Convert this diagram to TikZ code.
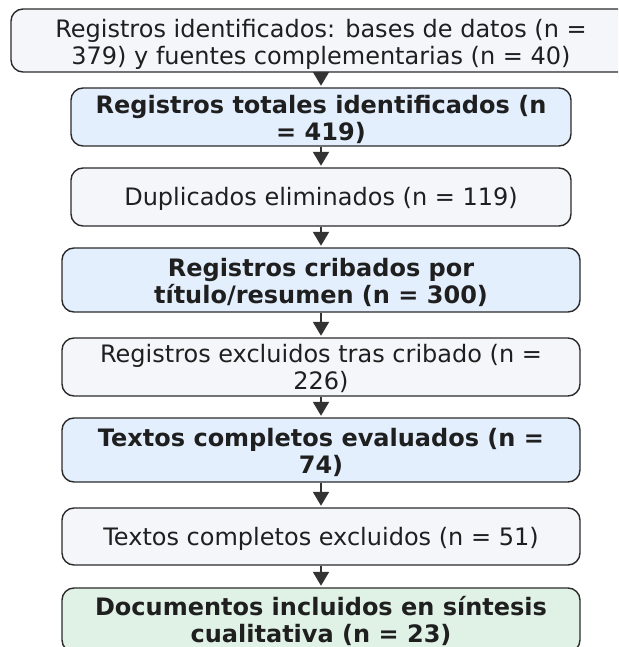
\documentclass[tikz,border=0pt]{standalone}
\usepackage{fontspec}
\setmainfont{DejaVu Sans}
\usetikzlibrary{arrows.meta}
\definecolor{boxgray}{HTML}{F4F6FA}
\definecolor{boxblue}{HTML}{E3EFFD}
\definecolor{boxgreen}{HTML}{E0F2E6}
\definecolor{edgec}{HTML}{2B2B2B}
\definecolor{arrc}{HTML}{333333}
\tikzset{
  flowbox/.style={draw=edgec, line width=1.4pt, rounded corners=12pt, inner sep=0pt},
  graybox/.style={flowbox, fill=boxgray},
  bluebox/.style={flowbox, fill=boxblue},
  greenbox/.style={flowbox, fill=boxgreen},
  plaintxt/.style={align=center, inner sep=0pt, font=\fontsize{24}{27}\selectfont, text=black!88},
  boldtxt/.style={plaintxt, font=\fontsize{24}{27}\selectfont\bfseries},
  flowarrow/.style={draw=arrc, line width=2pt, -{Triangle[width=16pt,length=14pt]}, shorten >=1.5pt}
}
\begin{document}
\begin{tikzpicture}[x=1pt,y=-1pt]
\useasboundingbox (0,0) rectangle (618,647);
\clip (0,0) rectangle (618,647);
\node[graybox, minimum width=620pt, minimum height=63pt] (b1) at (321,40.5) {};
\node[bluebox, minimum width=500pt, minimum height=58pt] (b2) at (321,117) {};
\node[graybox, minimum width=500pt, minimum height=58pt] (b3) at (321,197) {};
\node[bluebox, minimum width=518pt, minimum height=64pt] (b4) at (321,280) {};
\node[graybox, minimum width=518pt, minimum height=58pt] (b5) at (321,367) {};
\node[bluebox, minimum width=518pt, minimum height=64pt] (b6) at (321,450) {};
\node[graybox, minimum width=518pt, minimum height=57pt] (b7) at (321,536.5) {};
\node[greenbox, minimum width=518pt, minimum height=64pt] (b8) at (321,620) {};
\node[plaintxt] (t1) at ([yshift=-3.5pt]b1.center)
  {Registros identificados: bases de datos (n =\\379) y fuentes complementarias (n = 40)};
\node[boldtxt] (t2) at ([yshift=-2pt]b2.center) {Registros totales identificados (n\\= 419)};
\node[plaintxt] (t3) at ([yshift=-2pt]b3.center) {Duplicados eliminados (n = 119)};
\node[boldtxt] (t4) at ([yshift=-2.5pt]b4.center) {Registros cribados por\\título/resumen (n = 300)};
\node[plaintxt] (t5) at ([yshift=-1.5pt]b5.center) {Registros excluidos tras cribado (n =\\226)};
\node[boldtxt] (t6) at ([yshift=-2pt]b6.center) {Textos completos evaluados (n =\\74)};
\node[plaintxt] (t7) at ([yshift=-2pt]b7.center) {Textos completos excluidos (n = 51)};
\node[boldtxt] (t8) at ([yshift=-0.5pt]b8.center) {Documentos incluidos en síntesis\\cualitativa (n = 23)};
\draw[flowarrow] (b1.south) -- (b2.north);
\draw[flowarrow] (b2.south) -- (b3.north);
\draw[flowarrow] (b3.south) -- (b4.north);
\draw[flowarrow] (b4.south) -- (b5.north);
\draw[flowarrow] (b5.south) -- (b6.north);
\draw[flowarrow] (b6.south) -- (b7.north);
\draw[flowarrow] (b7.south) -- (b8.north);
\end{tikzpicture}
\end{document}
